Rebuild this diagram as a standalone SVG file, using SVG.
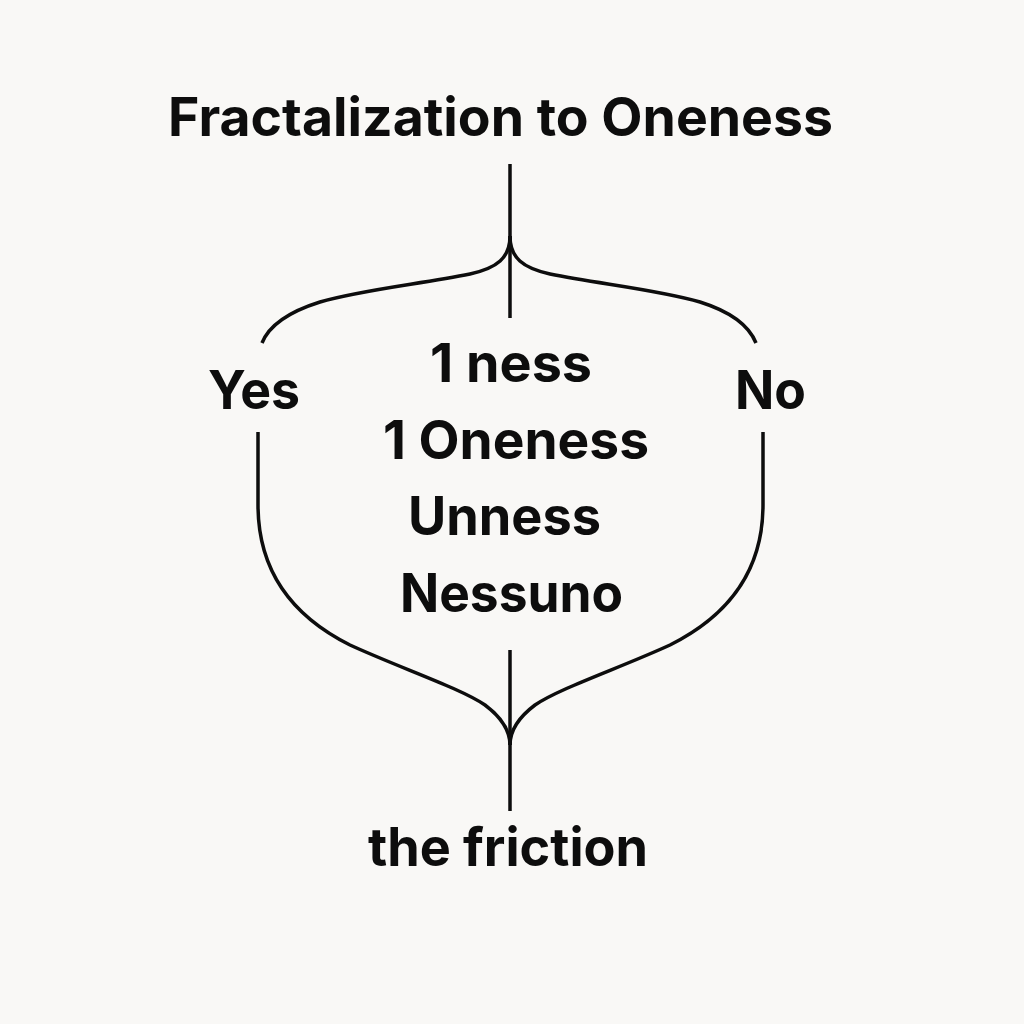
<svg xmlns="http://www.w3.org/2000/svg" width="1024" height="1024" viewBox="0 0 1024 1024">
<style>
.t{font-family:Inter,"Liberation Sans",Arial,sans-serif;font-weight:700;fill:#0d0d0d;font-size:53px}
.c{fill:none;stroke:#0d0d0d;stroke-width:3.5;stroke-linecap:butt}
</style>
<rect width="1024" height="1024" fill="#f9f8f6"/>
<g id="connectors">
<path class="c" d="M510,164 V318"/>
<path class="c" d="M510,236 C510,258 497,268 470,274 C420,284 360,290 320,302 C285,313 268,328 262,343"/>
<path class="c" d="M510,236 C510,258 523,268 550,274 C600,284 660,290 700,302 C735,313 750,328 756,343"/>
<path class="c" d="M258,432 V505 C258,570 290,615 350,645 C400,668 460,688 485,705 C505,720 510,735 510,745"/>
<path class="c" d="M763,432 V505 C763,570 730,615 670,645 C620,668 560,688 535,705 C515,720 510,735 510,745"/>
<path class="c" d="M510,650 V811"/>
</g>
<g id="title"><text class="t" x="168" y="136" font-size="54" textLength="665" lengthAdjust="spacingAndGlyphs">Fractalization to Oneness</text></g>
<g id="yes"><text class="t" x="208" y="409" textLength="92" lengthAdjust="spacingAndGlyphs">Yes</text></g>
<g id="no"><text class="t" x="735" y="409" textLength="71" lengthAdjust="spacingAndGlyphs">No</text></g>
<g id="center">
<text class="t" x="430" y="382" textLength="162" lengthAdjust="spacingAndGlyphs">1 ness</text>
<text class="t" x="383" y="459" textLength="266" lengthAdjust="spacingAndGlyphs">1 Oneness</text>
<text class="t" x="408" y="535" textLength="193" lengthAdjust="spacingAndGlyphs">Unness</text>
<text class="t" x="400" y="612" textLength="223" lengthAdjust="spacingAndGlyphs">Nessuno</text>
</g>
<g id="friction"><text class="t" x="368" y="866" font-size="54" textLength="280" lengthAdjust="spacingAndGlyphs">the friction</text></g>
</svg>
